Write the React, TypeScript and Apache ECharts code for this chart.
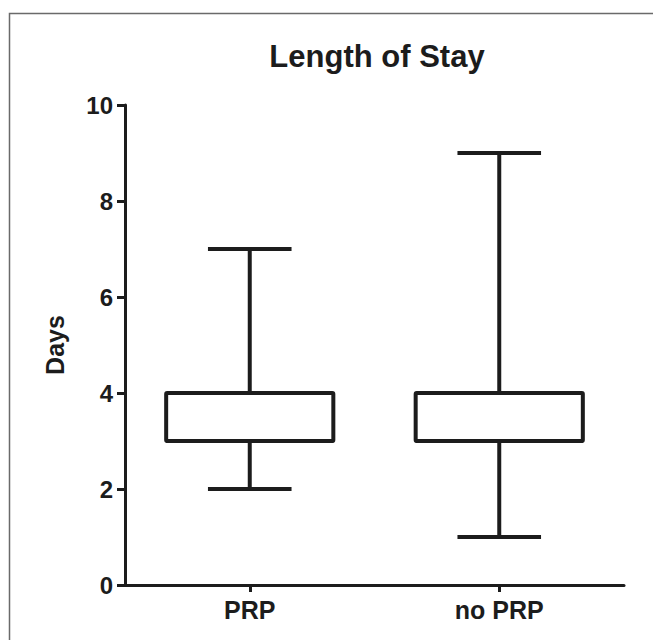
import React, { useEffect, useRef } from "react";
import * as echarts from "echarts";

const categories = ["PRP", "no PRP"];
// [min, Q1, median, Q3, max]
const prpStats = [2, 3, 3, 4, 7];
const noPrpStats = [1, 3, 3, 4, 9];
const yTicks = [0, 2, 4, 6, 8, 10];

const INK = "#1c1c1c";
const FONT = "'Liberation Sans', Arial, Helvetica, sans-serif";

export default function App() {
  const ref = useRef<HTMLDivElement>(null);

  useEffect(() => {
    document.body.style.margin = "0";
    const chart = echarts.init(ref.current!, null, { renderer: "svg" });
    const data = [prpStats, noPrpStats].map((s, i) => [i, ...s]);

    chart.setOption({
      animation: false,
      backgroundColor: "#ffffff",
      title: {
        text: "Length of Stay",
        left: 372,
        top: 36,
        textAlign: "center",
        textStyle: {
          fontFamily: FONT,
          fontSize: 31,
          fontWeight: "bold",
          color: INK,
        },
      },
      graphic: [
        {
          type: "rect",
          shape: { x: 9.5, y: 13.5, width: 800, height: 800 },
          style: { fill: "none", stroke: "#6a6a6a", lineWidth: 1.5 },
          silent: true,
        },
      ],
      grid: { left: 125, right: 29, top: 105, bottom: 55 },
      xAxis: {
        type: "category",
        data: categories,
        boundaryGap: true,
        axisLine: { show: true, lineStyle: { color: INK, width: 3 } },
        axisTick: {
          show: true,
          alignWithLabel: true,
          length: 7,
          lineStyle: { color: INK, width: 3 },
        },
        axisLabel: {
          margin: 12,
          fontFamily: FONT,
          fontSize: 25,
          fontWeight: "bold",
          color: INK,
        },
        splitLine: { show: false },
      },
      yAxis: {
        type: "value",
        min: yTicks[0],
        max: yTicks[yTicks.length - 1],
        interval: 2,
        name: "Days",
        nameLocation: "middle",
        nameRotate: 90,
        nameGap: 58,
        nameTextStyle: {
          fontFamily: FONT,
          fontSize: 25,
          fontWeight: "bold",
          color: INK,
        },
        axisLine: { show: true, lineStyle: { color: INK, width: 3 } },
        axisTick: { show: true, length: 8, lineStyle: { color: INK, width: 3 } },
        axisLabel: {
          margin: 12,
          fontFamily: FONT,
          fontSize: 24,
          fontWeight: "bold",
          color: INK,
        },
        splitLine: { show: false },
      },
      series: [
        {
          type: "custom",
          data,
          clip: false,
          renderItem: (params: any, api: any) => {
            const idx = api.value(0);
            const vMin = api.value(1);
            const q1 = api.value(2);
            const med = api.value(3);
            const q3 = api.value(4);
            const vMax = api.value(5);
            const band = api.size([1, 0])[0];
            const boxW = band * 0.67;
            const capW = boxW / 2;
            const pMin = api.coord([idx, vMin]);
            const pQ1 = api.coord([idx, q1]);
            const pMed = api.coord([idx, med]);
            const pQ3 = api.coord([idx, q3]);
            const pMax = api.coord([idx, vMax]);
            const cx = pQ1[0];
            const lw = 4;
            const lineStyle = { stroke: INK, lineWidth: lw, lineCap: "butt" };
            return {
              type: "group",
              children: [
                {
                  type: "line",
                  shape: { x1: cx, y1: pQ3[1], x2: cx, y2: pMax[1] },
                  style: lineStyle,
                },
                {
                  type: "line",
                  shape: { x1: cx - capW / 2, y1: pMax[1], x2: cx + capW / 2, y2: pMax[1] },
                  style: lineStyle,
                },
                {
                  type: "line",
                  shape: { x1: cx, y1: pQ1[1], x2: cx, y2: pMin[1] },
                  style: lineStyle,
                },
                {
                  type: "line",
                  shape: { x1: cx - capW / 2, y1: pMin[1], x2: cx + capW / 2, y2: pMin[1] },
                  style: lineStyle,
                },
                {
                  type: "rect",
                  shape: {
                    x: cx - boxW / 2,
                    y: pQ3[1],
                    width: boxW,
                    height: pQ1[1] - pQ3[1],
                    r: 1,
                  },
                  style: { fill: "#ffffff", stroke: INK, lineWidth: lw, lineJoin: "round" },
                },
                {
                  type: "line",
                  shape: { x1: cx - boxW / 2, y1: pMed[1], x2: cx + boxW / 2, y2: pMed[1] },
                  style: lineStyle,
                },
              ],
            };
          },
        },
      ],
    });

    return () => chart.dispose();
  }, []);

  return (
    <div
      ref={ref}
      style={{ position: "absolute", left: 0, top: 0, width: 653, height: 640 }}
    />
  );
}
